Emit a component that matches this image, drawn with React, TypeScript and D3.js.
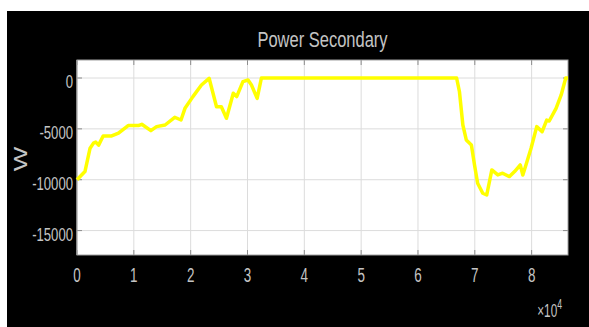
import React from 'react';
import * as d3 from 'd3';

// time in seconds, power in W
const timeSec = [
  0, 1400, 2300, 2900, 3300, 3800, 4600, 6100, 7300, 9000, 10800, 11400, 13000, 14000,
  15500, 17200, 18300, 19000, 20400, 21900, 23250, 24550, 25400, 26300, 27500, 28100,
  29200, 30100, 30700, 31700, 32450, 66800, 67300, 67900, 68500, 69400, 69950, 70500,
  71400, 72100, 73000, 74050, 74900, 76100, 77000, 78000, 78450, 79000, 79900, 80900,
  81850, 82650, 83100, 84300, 85200, 86000, 86400,
];
const powerW = [
  -10000, -9200, -6900, -6400, -6300, -6600, -5700, -5700, -5430, -4680, -4680, -4550, -5170, -4780,
  -4620, -3860, -4130, -2980, -1830, -690, -30, -2820, -2820, -3960, -1500, -1830,
  -360, -200, -690, -2000, 0, 0, -1350, -4620, -6090, -6580, -8550, -10350,
  -11330, -11500, -9040, -9530, -9360, -9690, -9200, -8550, -9530, -8550, -6910, -4780,
  -5280, -4130, -4230, -2980, -1670, 0, 0,
];
const xTicks = [0, 1, 2, 3, 4, 5, 6, 7, 8];
const yTicks = [0, -5000, -10000, -15000];
const title = 'Power Secondary';
const yLabel = 'W';

const W = 589;
const H = 327;
const plot = { left: 77, top: 60, right: 568, bottom: 255 };
const font = '"Liberation Sans", Arial, sans-serif';
const textColor = '#c4c4c4';

export default function App() {
  const x = d3.scaleLinear().domain([0, 86400]).range([plot.left, plot.right]);
  const y = d3.scaleLinear().domain([-17400, 1770]).range([plot.bottom, plot.top]);

  const line = d3.line<number>()
    .x((_, i) => x(timeSec[i]))
    .y((d) => y(d));

  const tick = 5;

  return (
    <svg width={W} height={H} style={{ position: 'absolute', left: 0, top: 0, display: 'block' }}>
      <rect x={0} y={0} width={W} height={H} fill="#ffffff" />
      <rect x={7} y={11} width={W - 7} height={H - 11} fill="#000000" />
      <rect x={plot.left} y={plot.top} width={plot.right - plot.left} height={plot.bottom - plot.top} fill="#ffffff" />

      {/* grid */}
      {xTicks.map((t) => (
        <line key={'gx' + t} x1={x(t * 1e4)} x2={x(t * 1e4)} y1={plot.top} y2={plot.bottom} stroke="#dcdcdc" strokeWidth={1} />
      ))}
      {yTicks.map((t) => (
        <line key={'gy' + t} x1={plot.left} x2={plot.right} y1={y(t)} y2={y(t)} stroke="#dcdcdc" strokeWidth={1} />
      ))}

      {/* inward ticks */}
      {xTicks.map((t) => (
        <g key={'tx' + t} stroke="#8c8c8c" strokeWidth={1}>
          <line x1={x(t * 1e4)} x2={x(t * 1e4)} y1={plot.bottom} y2={plot.bottom - tick} />
          <line x1={x(t * 1e4)} x2={x(t * 1e4)} y1={plot.top} y2={plot.top + tick} />
        </g>
      ))}
      {yTicks.map((t) => (
        <g key={'ty' + t} stroke="#8c8c8c" strokeWidth={1}>
          <line x1={plot.left} x2={plot.left + tick} y1={y(t)} y2={y(t)} />
          <line x1={plot.right} x2={plot.right - tick} y1={y(t)} y2={y(t)} />
        </g>
      ))}
      <rect x={plot.left} y={plot.top} width={plot.right - plot.left} height={plot.bottom - plot.top} fill="none" stroke="#a0a0a0" strokeWidth={1} />

      <path d={line(powerW) ?? ''} fill="none" stroke="#ffff00" strokeWidth={3.5} strokeLinejoin="round" />

      {/* y tick labels */}
      {yTicks.map((t) => (
        <text key={'ly' + t} transform={`translate(${plot.left - 4},${y(t) + 10}) scale(0.71,1)`}
          textAnchor="end" fontFamily={font} fontSize={18.5} fill={textColor}>
          {t}
        </text>
      ))}
      {/* x tick labels */}
      {xTicks.map((t) => (
        <text key={'lx' + t} transform={`translate(${x(t * 1e4)},${281.5}) scale(0.64,1)`}
          textAnchor="middle" fontFamily={font} fontSize={21} fill={textColor}>
          {t}
        </text>
      ))}
      <text transform={`translate(${562},${316.5}) scale(0.62,1)`} textAnchor="end"
        fontFamily={font} fontSize={19} fill={textColor}>
        ×10<tspan dy={-8} fontSize={14}>4</tspan>
      </text>

      <text transform={`translate(${(plot.left + plot.right) / 2},${46.5}) scale(0.75,1)`}
        textAnchor="middle" fontFamily={font} fontSize={22} fill={textColor}>
        {title}
      </text>
      <text transform={`translate(${26.5},${159}) rotate(-90) scale(1,0.72)`}
        textAnchor="middle" fontFamily={font} fontSize={26} fill={textColor}>
        {yLabel}
      </text>
    </svg>
  );
}
